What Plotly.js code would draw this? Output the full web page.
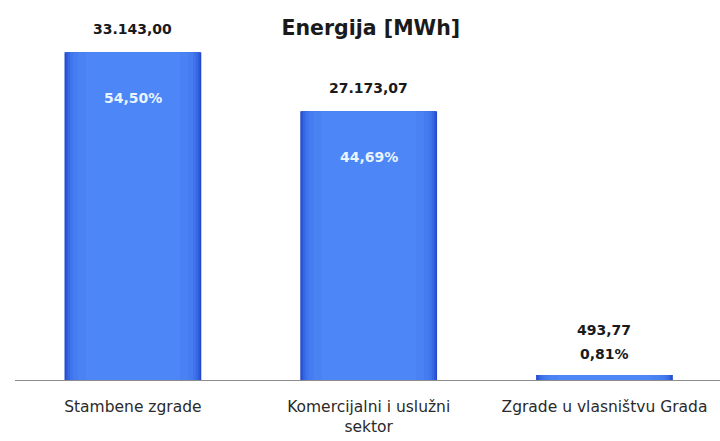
<!DOCTYPE html>
<html>
<head>
<meta charset="utf-8">
<script src="https://cdn.plot.ly/plotly-3.0.1.min.js"></script>
<style>html,body{margin:0;padding:0;background:#fff;}#chart{width:720px;height:441px;}</style>
</head>
<body>
<div id="chart"></div>
<script>
var categories = ["Stambene zgrade", "Komercijalni i uslužni<br>sektor", "Zgrade u vlasništvu Grada"];
var values = [33143.00, 27173.07, 493.77];
var valueLabels = ["33.143,00", "27.173,07", "493,77"];
var percentLabels = ["54,50%", "44,69%", "0,81%"];

var FONT = "'DejaVu Sans', sans-serif";

var layers = [
  {w: 0.58, c: "#2348c8"},
  {w: 0.57, c: "#2c58d8"},
  {w: 0.555, c: "#3668e4"},
  {w: 0.535, c: "#3f74ec"},
  {w: 0.51, c: "#457cf0"},
  {w: 0.47, c: "#4a82f4"},
  {w: 0.40, c: "#4d86f6"}
];
var traces = layers.map(function(l){
  return {type: "bar", x: categories, y: values, width: l.w,
    marker: {color: l.c, line: {width: 0}}, hoverinfo: "skip", showlegend: false};
});

var annotations = [];
values.forEach(function(v, i){
  var small = v < 2000;
  annotations.push({x: categories[i], y: v, xref: "x", yref: "y", text: "<b>" + valueLabels[i] + "</b>",
    showarrow: false, yanchor: "bottom", yshift: small ? 35 : 13,
    font: {family: FONT, size: 14, color: "#1a1a1a"}});
  annotations.push({x: categories[i], y: v, xref: "x", yref: "y", text: "<b>" + percentLabels[i] + "</b>",
    showarrow: false, yanchor: "middle", yshift: small ? 21 : -46,
    font: {family: FONT, size: 14, color: small ? "#1a1a1a" : "#e8f4ff"}});
});

var layout = {
  width: 720, height: 441,
  margin: {l: 15, r: 0, t: 24, b: 61},
  paper_bgcolor: "#ffffff", plot_bgcolor: "#ffffff",
  barmode: "overlay",
  title: {text: "<b>Energija [MWh]</b>", x: 0.515, xanchor: "center", y: 0.937, yanchor: "middle",
    font: {family: FONT, size: 20.5, color: "#1a1a1a"}},
  xaxis: {type: "category", range: [-0.5, 2.49], showline: true, linecolor: "#8c8c8c", linewidth: 1,
    ticks: "", showgrid: false, zeroline: false, ticklabelstandoff: 12,
    tickfont: {family: FONT, size: 15.5, color: "#2a2a2a"}},
  yaxis: {range: [0, 36000], visible: false, showgrid: false, zeroline: false},
  annotations: annotations,
  showlegend: false
};

Plotly.newPlot("chart", traces, layout, {displayModeBar: false, staticPlot: true});
</script>
</body>
</html>
